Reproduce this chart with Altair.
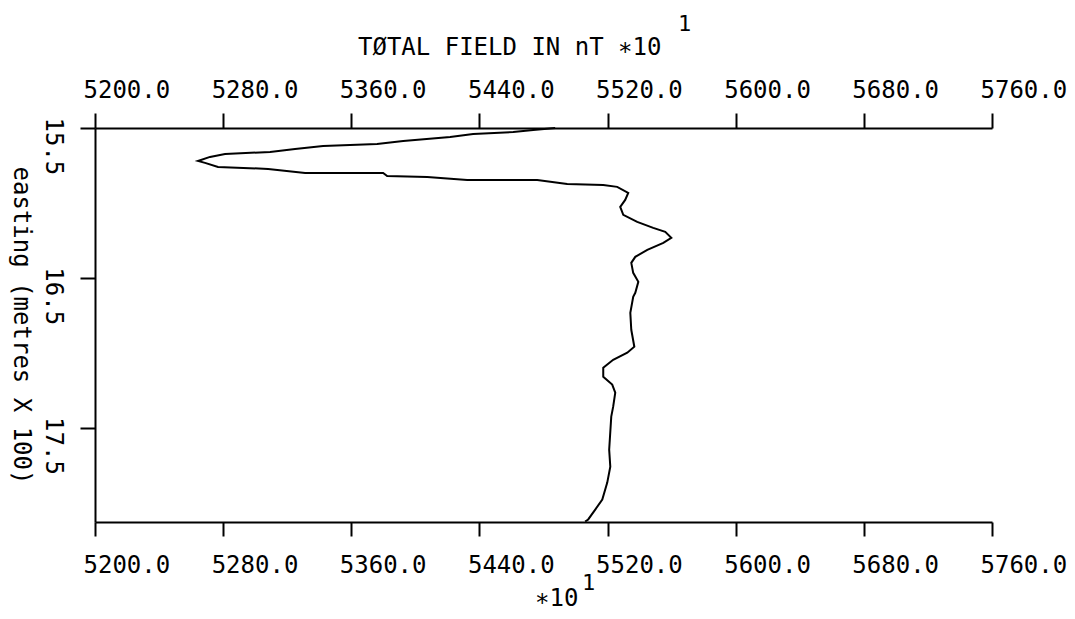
import altair as alt
import pandas as pd

# total field (nT * 10)
field = [5487.3, 5473.6, 5461.1, 5436.1, 5421.7, 5392.4, 5376.1, 5342.4, 5324.9, 5309.3,
         5281.2, 5271.8, 5264.3, 5268.7, 5276.8, 5308.1, 5331.2, 5379.9, 5382.4, 5407.4,
         5432.4, 5476.1, 5494.8, 5517.3, 5526.0, 5532.9, 5531.0, 5527.9, 5529.8, 5538.5,
         5548.5, 5556.0, 5559.8, 5554.8, 5544.8, 5537.3, 5534.8, 5536.0, 5539.2, 5537.3,
         5536.0, 5534.2, 5534.8, 5536.7, 5532.3, 5523.5, 5517.3, 5517.3, 5522.9, 5524.8,
         5523.5, 5522.3, 5521.0, 5521.7, 5519.8, 5516.7, 5512.3, 5507.9, 5506.0]
# easting (metres x 100)
easting = [15.500, 15.513, 15.527, 15.540, 15.560, 15.587, 15.607, 15.620, 15.640, 15.660,
           15.673, 15.693, 15.720, 15.733, 15.760, 15.773, 15.800, 15.800, 15.820, 15.827,
           15.847, 15.847, 15.873, 15.880, 15.893, 15.933, 15.980, 16.027, 16.080, 16.127,
           16.167, 16.193, 16.233, 16.267, 16.313, 16.360, 16.400, 16.467, 16.527, 16.600,
           16.627, 16.733, 16.847, 16.960, 17.000, 17.047, 17.100, 17.160, 17.213, 17.267,
           17.360, 17.427, 17.647, 17.760, 17.867, 17.980, 18.047, 18.113, 18.127]

x_ticks = [5200, 5280, 5360, 5440, 5520, 5600, 5680, 5760]
y_ticks = [15.5, 16.5, 17.5]
x_domain = [5200, 5760]
y_domain = [15.5, 18.13]

title_text = ["TØTAL FIELD IN nT  ∗10"]
exp_text = ["1"]
bottom_text = ["∗10"]
y_title = "easting (metres X 100)"

FONT = "DejaVu Sans Mono"
W, H = 897, 394

df = pd.DataFrame({"field": field, "easting": easting, "i": list(range(len(field)))})

xscale = alt.Scale(domain=x_domain, nice=False, zero=False)
yscale = alt.Scale(domain=y_domain, nice=False, zero=False, reverse=True)

common_axis = dict(grid=False, domainColor="black", tickColor="black", labelColor="black",
                   domainWidth=2, tickWidth=2, labelFont=FONT, labelFlush=False,
                   labelOverlap=False, labelBound=False)

line = alt.Chart(df).mark_line(color="black", strokeWidth=2).encode(
    x=alt.X("field:Q", scale=xscale,
            axis=alt.Axis(orient="bottom", values=x_ticks, format=".1f", title=None,
                          tickSize=14, labelPadding=36, labelAlign="left", labelOffset=-12,
                          labelBaseline="alphabetic", labelFontSize=24, **common_axis)),
    y=alt.Y("easting:Q", scale=yscale,
            axis=alt.Axis(orient="left", values=y_ticks, format=".1f", title=y_title,
                          titleAngle=90, titleFont=FONT, titleFontSize=24,
                          titleFontWeight="normal", titleColor="black", titleX=-82,
                          titleY=H / 2, titleAlign="center", titleBaseline="alphabetic",
                          tickSize=15, labelPadding=16, labelAngle=90, labelAlign="left",
                          labelBaseline="top", labelOffset=-11, labelFontSize=24,
                          **common_axis)),
    order="i:Q",
)

top_axis = alt.Chart(df).mark_line(opacity=0).encode(
    x=alt.X("field:Q", scale=xscale,
            axis=alt.Axis(orient="top", values=x_ticks, format=".1f", title=None,
                          tickSize=15, labelPadding=16, labelAlign="left", labelOffset=-12,
                          labelBaseline="alphabetic", labelFontSize=24, **common_axis)),
    y=alt.Y("easting:Q", scale=yscale, axis=None),
    order="i:Q",
)

def label(texts, x, y, size):
    return alt.Chart(pd.DataFrame({"t": texts})).mark_text(
        align="left", baseline="alphabetic", font=FONT, fontSize=size, color="black"
    ).encode(text="t:N", x=alt.value(x), y=alt.value(y))

title_lbl = label(title_text, 263, -73, 24)
title_exp = label(exp_text, 583, -97, 22)
bottom_lbl = label(bottom_text, 440, 478, 24)
bottom_exp = label(exp_text, 487, 462, 22)

chart = alt.layer(line, top_axis, title_lbl, title_exp, bottom_lbl, bottom_exp).resolve_axis(
    x="independent", y="independent"
).properties(
    width=W, height=H,
    autosize=alt.AutoSizeParams(type="none"),
    padding={"left": 87, "top": 120, "right": 75, "bottom": 89},
    background="white",
).configure_view(strokeWidth=0)

chart.save("out.html", embed_options={"renderer": "svg", "actions": False})
